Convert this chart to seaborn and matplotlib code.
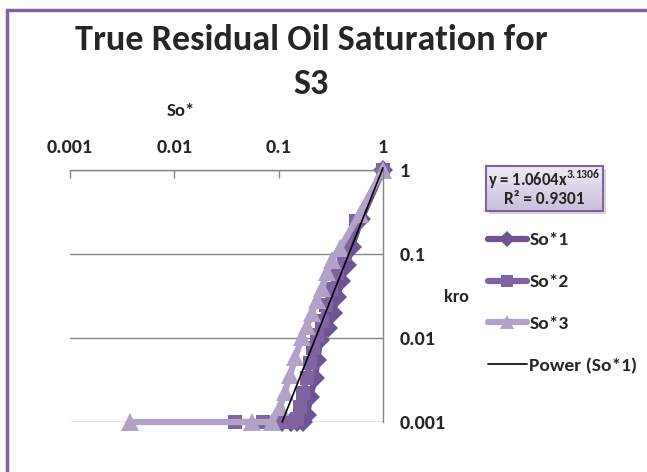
import matplotlib
matplotlib.use("Agg")
import matplotlib.pyplot as plt
from matplotlib import font_manager
from matplotlib.lines import Line2D
from matplotlib.patches import FancyBboxPatch
import numpy as np
import pandas as pd
import seaborn as sns

# Normalised oil saturation (So*) and relative permeability (kro) for three Sor cases
s1_x = [1.0, 0.62, 0.50, 0.45, 0.40, 0.363, 0.33, 0.298, 0.25, 0.235, 0.223, 0.20, 0.187, 0.17, 0.15, 0.13, 0.108]
s1_y = [1.0, 0.26, 0.12, 0.074, 0.048, 0.031, 0.020, 0.013, 0.0095, 0.0055, 0.0033, 0.0020, 0.0012, 0.001, 0.001, 0.001, 0.001]

s2_x = [1.0, 0.55, 0.42, 0.36, 0.32, 0.285, 0.26, 0.235, 0.215, 0.20, 0.185, 0.17, 0.16, 0.15, 0.13, 0.10, 0.07, 0.038]
s2_y = [1.0, 0.25, 0.10, 0.060, 0.038, 0.025, 0.016, 0.011, 0.0075, 0.005, 0.0033, 0.0022, 0.0015, 0.0011, 0.001, 0.001, 0.001, 0.001]

s3_x = [1.0, 0.60, 0.388, 0.325, 0.291, 0.261, 0.233, 0.209, 0.187, 0.168, 0.144, 0.129, 0.115, 0.103, 0.086, 0.055, 0.0038]
s3_y = [1.0, 0.30, 0.118, 0.085, 0.061, 0.039, 0.028, 0.020, 0.014, 0.0103, 0.0059, 0.0036, 0.0023, 0.0015, 0.001, 0.001, 0.001]

series_names = ["So*1", "So*2", "So*3"]
series_colors = ["#6E5494", "#8064A2", "#B3A2C7"]
series_markers = ["D", "s", "^"]
series_msizes = [10.5, 10.5, 13]

# Power trendline fitted on So*1
fit_a = 1.0604
fit_b = 3.1306
fit_r2 = 0.9301

x_ticks = [0.001, 0.01, 0.1, 1]
x_ticklabels = ["0.001", "0.01", "0.1", "1"]
y_ticks = [0.001, 0.01, 0.1, 1]
y_ticklabels = ["0.001", "0.01", "0.1", "1"]

sns.set_theme(style="white")


def pick_bold_family(prefs):
    bold = {f.name for f in font_manager.fontManager.ttflist
            if (isinstance(f.weight, int) and f.weight >= 700) or str(f.weight) == "bold"}
    for name in prefs:
        if name in bold:
            return name
    return "DejaVu Sans"


FAMILY = pick_bold_family(["Carlito", "Lato", "Open Sans", "Noto Sans", "Roboto",
                           "Liberation Sans", "DejaVu Sans"])
plt.rcParams["font.family"] = [FAMILY, "DejaVu Sans"]
plt.rcParams["font.weight"] = "bold"
plt.rcParams["mathtext.fontset"] = "custom"
plt.rcParams["mathtext.rm"] = FAMILY + ":bold"
plt.rcParams["mathtext.bf"] = FAMILY + ":bold"

W, H = 647, 472
fig = plt.figure(figsize=(W / 100, H / 100), dpi=100)
fig.patch.set_facecolor("white")


def fx(px):
    return px / W


def fy(py):
    return 1 - py / H


ax = fig.add_axes([fx(70), fy(422), fx(383) - fx(70), fy(170) - fy(422)])
ax.set_facecolor("white")

frames = []
for name, xs, ys in zip(series_names, [s1_x, s2_x, s3_x], [s1_y, s2_y, s3_y]):
    frames.append(pd.DataFrame({"So*": xs, "kro": ys, "series": name}))
df = pd.concat(frames, ignore_index=True)

for name, col, mk, ms in zip(series_names, series_colors, series_markers, series_msizes):
    sub = df[df["series"] == name]
    sns.lineplot(data=sub, x="So*", y="kro", ax=ax, sort=False, estimator=None,
                 color=col, lw=4.5, marker=mk, markersize=ms, markeredgewidth=0,
                 clip_on=False, legend=False)

# Power trendline over the So*1 range
xt = np.logspace(np.log10(min(s1_x)), np.log10(max(s1_x)), 100)
ax.plot(xt, fit_a * xt ** fit_b, color="black", lw=1.2, zorder=5, clip_on=False)

ax.set_xscale("log")
ax.set_yscale("log")
ax.set_xlim(0.001, 1)
ax.set_ylim(0.001, 1)

ax.xaxis.tick_top()
ax.set_xticks(x_ticks)
ax.set_xticklabels(x_ticklabels, fontsize=14.5, fontweight="bold")
ax.xaxis.set_minor_locator(matplotlib.ticker.NullLocator())
ax.tick_params(axis="x", direction="in", length=6, width=1, color="#868686", pad=10,
               top=True, bottom=False)

ax.yaxis.tick_right()
ax.set_yticks(y_ticks)
ax.set_yticklabels(y_ticklabels, fontsize=14.5, fontweight="bold")
ax.yaxis.set_minor_locator(matplotlib.ticker.NullLocator())
ax.tick_params(axis="y", length=0, pad=12, right=True, left=False)
for lbl in ax.get_yticklabels():
    lbl.set_horizontalalignment("left")

ax.grid(axis="y", which="major", color="#868686", lw=1)
ax.grid(axis="x", visible=False)
for side in ["left", "bottom"]:
    ax.spines[side].set_visible(False)
for side in ["top", "right"]:
    ax.spines[side].set_color("#868686")
    ax.spines[side].set_linewidth(1)
ax.set_xlabel("")
ax.set_ylabel("")

# Titles
fig.text(fx(311), fy(40), "True Residual Oil Saturation for", ha="center", va="center",
         fontsize=26, fontweight="bold")
fig.text(fx(311), fy(84), "S3", ha="center", va="center", fontsize=26, fontweight="bold")
fig.text(fx(181), fy(111), "So*", ha="center", va="center", fontsize=13.5, fontweight="bold")
fig.text(fx(456), fy(297), "kro", ha="center", va="center", fontsize=13, fontweight="bold")

# Trendline equation box
box_l, box_t, box_r, box_b = 486, 166, 603, 211
shadow = FancyBboxPatch((fx(box_l + 3), fy(box_b + 3)), fx(box_r - box_l), fy(box_t) - fy(box_b),
                        boxstyle="square,pad=0", transform=fig.transFigure,
                        facecolor="#bdbdbd", edgecolor="none", alpha=0.6, zorder=1)
fig.patches.append(shadow)
grad = np.linspace(0, 1, 64).reshape(-1, 1)
cmap = matplotlib.colors.LinearSegmentedColormap.from_list("lav", ["#EFEAF4", "#CBBDDD"])
gax = fig.add_axes([fx(box_l), fy(box_b), fx(box_r - box_l), fy(box_t) - fy(box_b)], zorder=2)
gax.imshow(grad, aspect="auto", cmap=cmap, extent=[0, 1, 1, 0])
gax.set_xticks([])
gax.set_yticks([])
for sp in gax.spines.values():
    sp.set_color("#8064A2")
    sp.set_linewidth(1.5)
gax.text(0.5, 0.70, "y = %.4fx$^{\\mathregular{%.4f}}$" % (fit_a, fit_b), ha="center", va="center",
         fontsize=12, fontweight="bold", transform=gax.transAxes)
gax.text(0.5, 0.27, "R² = %.4f" % fit_r2, ha="center", va="center",
         fontsize=12.5, fontweight="bold", transform=gax.transAxes)

# Legend
handles = [Line2D([], [], color=c, lw=4.5, marker=m, markersize=s * 0.8, markeredgewidth=0)
           for c, m, s in zip(series_colors, series_markers, series_msizes)]
handles.append(Line2D([], [], color="black", lw=1.2))
labels = series_names + ["Power (So*1)"]
fig.legend(handles, labels, loc="center left", bbox_to_anchor=(fx(488), fy(303)),
           frameon=False, prop={"weight": "bold", "size": 14}, handlelength=2.0,
           handletextpad=0.12, labelspacing=1.3, borderaxespad=0, borderpad=0)

# Chart area border
fig.add_artist(Line2D([fx(7), fx(7)], [fy(10), fy(H + 5)], transform=fig.transFigure,
                      color="#8064A2", lw=2.5))
fig.add_artist(Line2D([fx(7), fx(W + 5)], [fy(10), fy(10)], transform=fig.transFigure,
                      color="#8064A2", lw=2.5))

fig.savefig("out.png", dpi=100)
